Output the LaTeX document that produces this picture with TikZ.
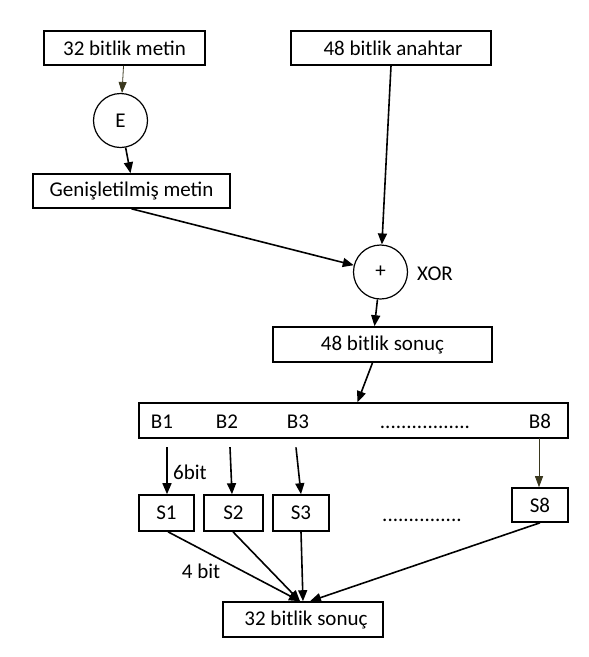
\documentclass[tikz,border=0pt]{standalone}
\usepackage{fontspec}
\setmainfont{Carlito}
\usetikzlibrary{arrows.meta}
\definecolor{olivedark}{RGB}{58,56,30}
\tikzset{
  box/.style={draw, line width=1.6pt, inner sep=0pt, minimum height=34pt},
  ring/.style={draw, circle, line width=1.2pt, minimum size=54pt, inner sep=0pt},
  arr/.style={line width=1.6pt, -{Triangle[length=11pt,width=9pt]}},
  thinarr/.style={line width=0.8pt, olivedark, -{Triangle[length=11pt,width=8pt]}},
  lbl/.style={inner sep=0pt, anchor=base}
}
\begin{document}
\begin{tikzpicture}[x=1pt, y=-1pt, font=\fontsize{21}{25}\selectfont]
\useasboundingbox (0,0) rectangle (589,657);

% upper part
\node [box, minimum width=161pt] (metin) at (124.5,48) {32 bitlik metin};
\node [ring] (E) at (120.5,120.5) {E};
\node [box, minimum width=197pt] (genis) at (131.5,191) {Genişletilmiş metin};
\node [box, minimum width=200pt] (anahtar) at (391,48) {\hspace*{4pt}48 bitlik anahtar};
\node [ring] (xor) at (380.5,272) {+};
\node [lbl] (xorlbl) at (435,280) {XOR};
\node [box, minimum width=219pt, minimum height=35pt] (sonuc48) at (382.5,344.5) {48 bitlik sonuç};

\draw [thinarr] (metin) -- (E);
\draw [arr] (E) -- ([xshift=-1pt]genis.north);
\draw [arr] (genis.south) -- (xor);
\draw [arr] (anahtar.south) -- (xor);
\draw [arr] (xor) -- ([xshift=-8pt]sonuc48.north);

% blocks
\node [box, minimum width=429pt, minimum height=35pt] (bbox) at (353.5,420.5) {};
\node [lbl] (b1) at (162,428) {B1};
\node [lbl] (b2) at (227,428) {B2};
\node [lbl] (b3) at (298,428) {B3};
\node [lbl] (bdots) at (425,428) {.................};
\node [lbl] (b8) at (540,428) {B8};

\draw [arr] ([xshift=-10pt]sonuc48.south) -- ([xshift=4pt]bbox.north);

\node [box, minimum width=55pt, minimum height=36pt] (s1) at (166.5,513) {S1};
\node [box, minimum width=59pt, minimum height=36pt] (s2) at (233.5,513) {S2};
\node [box, minimum width=56pt, minimum height=36pt] (s3) at (301,513) {S3};
\node [lbl] (sdots) at (422,521) {...............};
\node [box, minimum width=56pt] (s8) at (540,505) {S8};

\draw [arr] ([xshift=5pt,yshift=-19pt]b1.south) -- ([xshift=0.5pt]s1.north);
\draw [arr] ([xshift=3pt,yshift=-19pt]b2.south) -- ([xshift=-1.5pt]s2.north);
\draw [arr] ([xshift=-2pt,yshift=-19pt]b3.south) -- (s3.north);
\draw [thinarr] ([xshift=-1pt,yshift=-10pt]b8.south) -- ([xshift=-1pt]s8.north);
\node [lbl] (sixbit) at (190,479) {6bit};

\node [box, minimum width=160pt, minimum height=35pt] (final) at (303,619.5) {\hspace*{6pt}32 bitlik sonuç};
\node [lbl] (fourbit) at (201,578) {4 bit};

\draw [arr] ([xshift=1.5pt]s1.south) -- ([xshift=-3pt]final.north);
\draw [arr] ([xshift=-0.5pt]s2.south) -- ([xshift=-3pt]final.north);
\draw [arr] (s3.south) -- (final.north);
\draw [arr] (s8.south) -- ([xshift=7pt]final.north);
\end{tikzpicture}
\end{document}
